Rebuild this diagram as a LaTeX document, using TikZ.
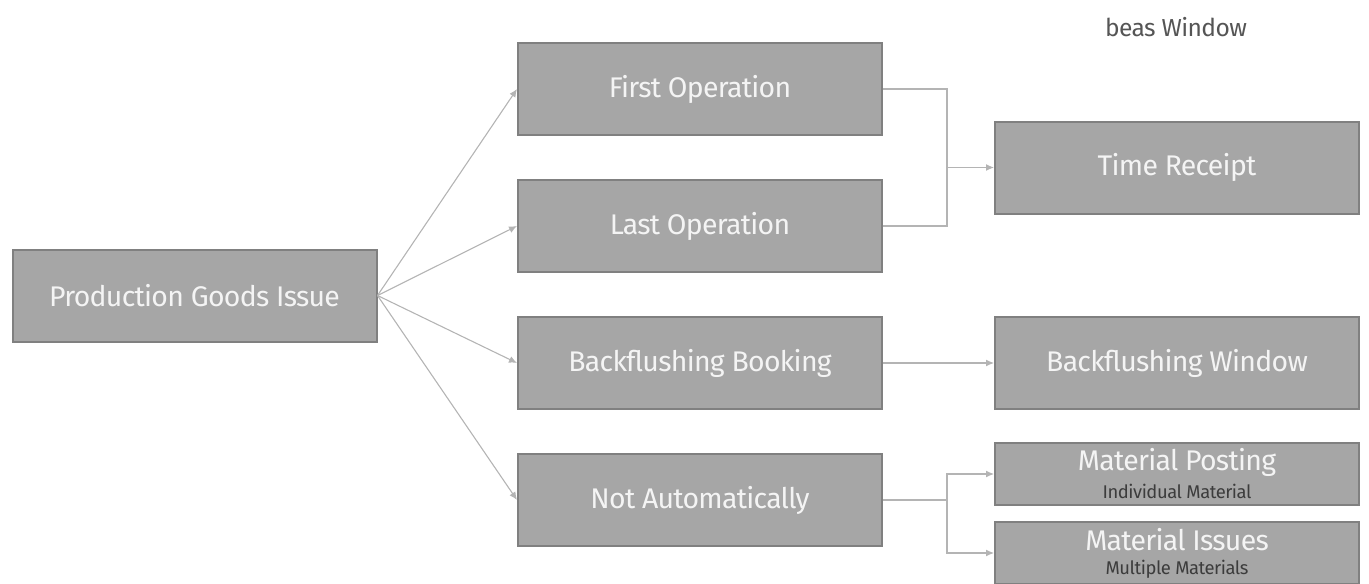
\documentclass[tikz,border=0pt]{standalone}
\usepackage{fontspec}
\setmainfont{Fira Sans}[LetterSpace=-2.5]
\usetikzlibrary{arrows.meta}
\definecolor{boxfill}{HTML}{A6A6A6}
\definecolor{boxline}{HTML}{808080}
\definecolor{wire}{HTML}{B4B4B4}
\definecolor{boxtext}{HTML}{F4F4F4}
\definecolor{subtext}{HTML}{3C3C3C}
\definecolor{captext}{HTML}{555555}
\tikzset{
  box/.style={draw=boxline, line width=1pt, fill=boxfill, text=boxtext,
    minimum width=182pt, minimum height=46pt, inner sep=0pt,
    font=\fontsize{14.2}{16}\selectfont},
  smallbox/.style={box, minimum height=31pt},
  wire/.style={draw=wire, line width=0.55pt},
  arr/.style={wire, -{Latex[length=4pt,width=3.5pt]}},
}
\begin{document}
\begin{tikzpicture}[x=0.5pt,y=-0.5pt]
\useasboundingbox (0,0) rectangle (1369,583);
% boxes
\node[box] (pgi) at (194.5,295.5) {Production Goods Issue};
\node[box] (first) at (700,89) {First Operation};
\node[box] (last) at (700,226) {Last Operation};
\node[box] (bfb) at (700,363) {Backflushing Booking};
\node[box] (notauto) at (700,500) {Not Automatically};
\node[box] (time) at (1177,167.5) {Time Receipt};
\node[box] (bfw) at (1177,363) {Backflushing Window};
\node[smallbox] (post) at (1177,474) {};
\node[smallbox] (issue) at (1177,553) {};
% two-line labels of the material boxes
\node[text=boxtext, font=\fontsize{14.2}{16}\selectfont, inner sep=0pt] (postt) at (1177,462) {Material Posting};
\node[text=subtext, font=\fontsize{9.2}{10}\selectfont, inner sep=0pt] (posts) at (1177,491.5) {Individual Material};
\node[text=boxtext, font=\fontsize{14.2}{16}\selectfont, inner sep=0pt] (issuet) at (1177,540) {Material Issues};
\node[text=subtext, font=\fontsize{9.2}{10}\selectfont, inner sep=0pt] (issues) at (1177,569.5) {Multiple Materials};
% caption
\node[text=captext, font=\fontsize{12.3}{14}\selectfont, inner sep=0pt] (cap) at (1176,27) {beas Window};
% fan-out from the goods issue box
\draw[arr] (pgi.east) -- (first.west);
\draw[arr] (pgi.east) -- (last.west);
\draw[arr] (pgi.east) -- (bfb.west);
\draw[arr] (pgi.east) -- (notauto.west);
% operations merge into the time receipt
\coordinate (jt) at (947,167.5);
\draw[wire] (first.east) -| (jt);
\draw[wire] (last.east) -| (jt);
\draw[arr] (jt) -- (time.west);
% backflushing
\draw[arr] (bfb.east) -- (bfw.west);
% manual postings split
\coordinate (jm) at (947,500);
\draw[wire] (notauto.east) -- (jm);
\draw[arr] (jm) |- (post.west);
\draw[arr] (jm) |- (issue.west);
\end{tikzpicture}
\end{document}
